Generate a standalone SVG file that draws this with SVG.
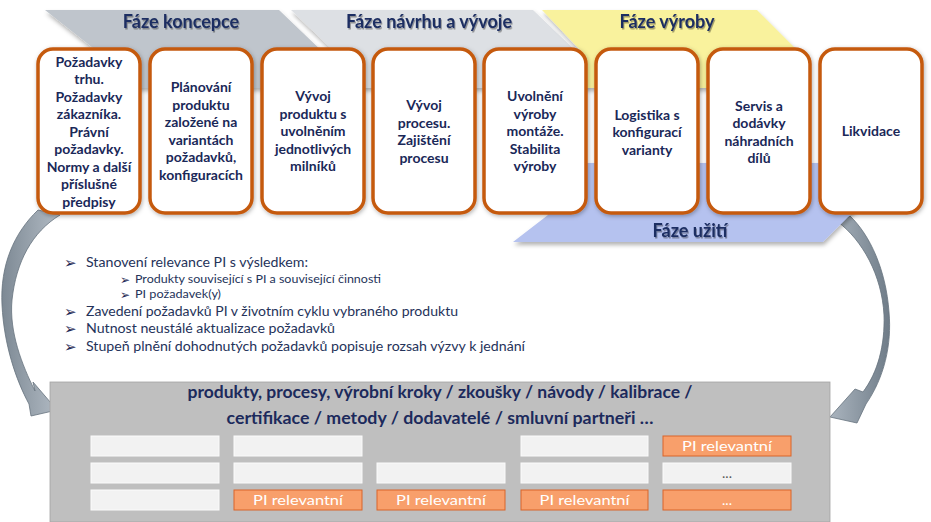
<svg xmlns="http://www.w3.org/2000/svg" width="931" height="522" viewBox="0 0 931 522">
<defs>
<filter id="bandShadow" x="-5%" y="-20%" width="110%" height="150%">
<feDropShadow dx="1" dy="3" stdDeviation="2" flood-color="#000" flood-opacity="0.3"/>
</filter>
<filter id="boxShadow" x="-10%" y="-10%" width="120%" height="120%">
<feDropShadow dx="1" dy="1.5" stdDeviation="2" flood-color="#000" flood-opacity="0.3"/>
</filter>
<filter id="txtShadow" x="-10%" y="-30%" width="120%" height="160%">
<feDropShadow dx="1" dy="1.5" stdDeviation="0.7" flood-color="#000" flood-opacity="0.35"/>
</filter>
<linearGradient id="arrowGrad" x1="0" y1="0" x2="1" y2="0">
<stop offset="0" stop-color="#7d8994"/>
<stop offset="1" stop-color="#b3bcc5"/>
</linearGradient>
<linearGradient id="arrowGradR" x1="0" y1="0" x2="1" y2="0">
<stop offset="0" stop-color="#aab4be"/>
<stop offset="1" stop-color="#6f7c88"/>
</linearGradient>
<style>
.box{fill:#fff;stroke:#c55a11;stroke-width:3.5}
.bt{font-family:Lato,"Liberation Sans",sans-serif;font-weight:bold;font-size:14px;fill:#1a2858;text-anchor:middle}
.ph{font-family:Lato,"Liberation Sans",sans-serif;font-weight:bold;font-size:18px;fill:#1f2f62;text-anchor:middle}
.bl{font-family:Lato,"Liberation Sans",sans-serif;font-size:13.5px;fill:#25335a}
.sbl{font-family:Lato,"Liberation Sans",sans-serif;font-size:11.5px;fill:#25335a}
.mark{font-family:"DejaVu Sans",sans-serif;fill:#1f2a55}
.ttl{font-family:Lato,"Liberation Sans",sans-serif;font-weight:bold;font-size:17px;fill:#1c2a5c;text-anchor:middle}
.cl{fill:#f2f2f2;stroke:#fbfbfb;stroke-width:1}
.co{fill:#f89f6b;stroke:#d9652a;stroke-width:1}
.ct{font-family:Lato,"Liberation Sans",sans-serif;font-size:14px;fill:#fff;text-anchor:middle}
.arr{stroke:#66727e;stroke-width:0.8}
</style>
</defs>
<rect width="931" height="522" fill="#fff"/>

<g id="connectors">
<path class="arr" fill="url(#arrowGrad)" d="M 38 210 C 14 233, 0 265, 2 305 C 4 345, 16 380, 29 404 L 31 416 L 57 410 L 33 382 L 35 391 C 22 365, 9 332, 12 300 C 16 262, 32 232, 60 215 Z"/>
<path class="arr" fill="url(#arrowGradR)" d="M 838 222 C 862 240, 882 275, 884 315 C 885 345, 878 372, 863 392 L 855 389 L 830 417 L 857 423 L 866 404 C 884 378, 892 345, 889 312 C 886 270, 870 235, 850 216 Z"/>
</g>

<g id="phase-koncepce">
<polygon points="45,10 279,10 326,55 326,88 102,88 102,55" fill="#bfc5cc" filter="url(#bandShadow)"/>
<text class="ph" x="181" y="28" filter="url(#txtShadow)">Fáze koncepce</text>
</g>
<g id="phase-navrh">
<polygon points="291,10 533,10 580,55 580,88 338,88 338,55" fill="#dde0e4" filter="url(#bandShadow)"/>
<text class="ph" x="429" y="28" filter="url(#txtShadow)">Fáze návrhu a vývoje</text>
</g>
<g id="phase-vyroba">
<polygon points="542,10 757,10 802,55 802,88 580,88 580,50" fill="#f9f29d" filter="url(#bandShadow)"/>
<text class="ph" x="667" y="28" filter="url(#txtShadow)">Fáze výroby</text>
</g>
<g id="phase-uziti">
<polygon points="513,242 823,242 855,210 855,163 548,163 548,215" fill="#b5c2ef" filter="url(#bandShadow)"/>
<text class="ph" x="690" y="237" filter="url(#txtShadow)">Fáze užití</text>
</g>

<g id="box1">
<rect class="box" x="38" y="49" width="102" height="164" rx="15" filter="url(#boxShadow)"/>
<text class="bt" x="89" y="66.5"><tspan x="89">Požadavky</tspan><tspan x="89" dy="17.5">trhu.</tspan><tspan x="89" dy="17.5">Požadavky</tspan><tspan x="89" dy="17.5">zákazníka.</tspan><tspan x="89" dy="17.5">Právní</tspan><tspan x="89" dy="17.5">požadavky.</tspan><tspan x="89" dy="17.5">Normy a další</tspan><tspan x="89" dy="17.5">příslušné</tspan><tspan x="89" dy="17.5">předpisy</tspan></text>
</g>
<g id="box2">
<rect class="box" x="150" y="49" width="102" height="164" rx="15" filter="url(#boxShadow)"/>
<text class="bt" x="201" y="92"><tspan x="201">Plánování</tspan><tspan x="201" dy="17.5">produktu</tspan><tspan x="201" dy="17.5">založené na</tspan><tspan x="201" dy="17.5">variantách</tspan><tspan x="201" dy="17.5">požadavků,</tspan><tspan x="201" dy="17.5">konfiguracích</tspan></text>
</g>
<g id="box3">
<rect class="box" x="262" y="49" width="102" height="164" rx="15" filter="url(#boxShadow)"/>
<text class="bt" x="313" y="101"><tspan x="313">Vývoj</tspan><tspan x="313" dy="17.5">produktu s</tspan><tspan x="313" dy="17.5">uvolněním</tspan><tspan x="313" dy="17.5">jednotlivých</tspan><tspan x="313" dy="17.5">milníků</tspan></text>
</g>
<g id="box4">
<rect class="box" x="373" y="49" width="102" height="164" rx="15" filter="url(#boxShadow)"/>
<text class="bt" x="424" y="110"><tspan x="424">Vývoj</tspan><tspan x="424" dy="17.5">procesu.</tspan><tspan x="424" dy="17.5">Zajištění</tspan><tspan x="424" dy="17.5">procesu</tspan></text>
</g>
<g id="box5">
<rect class="box" x="484" y="49" width="102" height="164" rx="15" filter="url(#boxShadow)"/>
<text class="bt" x="535" y="101"><tspan x="535">Uvolnění</tspan><tspan x="535" dy="17.5">výroby</tspan><tspan x="535" dy="17.5">montáže.</tspan><tspan x="535" dy="17.5">Stabilita</tspan><tspan x="535" dy="17.5">výroby</tspan></text>
</g>
<g id="box6">
<rect class="box" x="596" y="49" width="102" height="164" rx="15" filter="url(#boxShadow)"/>
<text class="bt" x="647" y="119.5"><tspan x="647">Logistika s</tspan><tspan x="647" dy="17.5">konfigurací</tspan><tspan x="647" dy="17.5">varianty</tspan></text>
</g>
<g id="box7">
<rect class="box" x="708" y="49" width="102" height="164" rx="15" filter="url(#boxShadow)"/>
<text class="bt" x="759" y="110.5"><tspan x="759">Servis a</tspan><tspan x="759" dy="17.5">dodávky</tspan><tspan x="759" dy="17.5">náhradních</tspan><tspan x="759" dy="17.5">dílů</tspan></text>
</g>
<g id="box8">
<rect class="box" x="820" y="49" width="102" height="164" rx="15" filter="url(#boxShadow)"/>
<text class="bt" x="871" y="136">Likvidace</text>
</g>

<g id="bullets">
<text class="mark" x="64" y="267.5" font-size="15">➢</text>
<text class="bl" x="86" y="266.5" textLength="222" lengthAdjust="spacingAndGlyphs">Stanovení relevance PI s výsledkem:</text>
<text class="mark" x="120" y="283.5" font-size="12">➢</text>
<text class="sbl" x="135" y="283" textLength="246" lengthAdjust="spacingAndGlyphs">Produkty související  s PI a související  činnosti</text>
<text class="mark" x="120" y="298.5" font-size="12">➢</text>
<text class="sbl" x="135" y="298" textLength="86" lengthAdjust="spacingAndGlyphs">PI požadavek(y)</text>
<text class="mark" x="64" y="316.5" font-size="15">➢</text>
<text class="bl" x="86" y="315.5" textLength="372" lengthAdjust="spacingAndGlyphs">Zavedení požadavků PI v životním cyklu vybraného produktu</text>
<text class="mark" x="64" y="333.5" font-size="15">➢</text>
<text class="bl" x="86" y="332.5" textLength="249" lengthAdjust="spacingAndGlyphs">Nutnost neustálé aktualizace požadavků</text>
<text class="mark" x="64" y="351.5" font-size="15">➢</text>
<text class="bl" x="86" y="350.5" textLength="439" lengthAdjust="spacingAndGlyphs">Stupeň plnění dohodnutých požadavků popisuje rozsah výzvy k jednání</text>
</g>

<g id="objects-panel">
<rect x="50" y="382" width="780" height="140" fill="#bfbfbf" stroke="#a3a3a3" stroke-width="0.8"/>
<text class="ttl" x="440" y="398" textLength="505" lengthAdjust="spacingAndGlyphs">produkty, procesy, výrobní kroky / zkoušky / návody / kalibrace /</text>
<text class="ttl" x="440" y="424" textLength="427" lengthAdjust="spacingAndGlyphs">certifikace / metody / dodavatelé / smluvní partneři …</text>
<rect class="cl" x="91" y="436" width="128" height="20"/>
<rect class="cl" x="234" y="436" width="128" height="20"/>
<rect class="cl" x="521" y="436" width="127" height="20"/>
<rect class="co" x="663" y="436" width="128" height="20"/>
<text class="ct" x="727" y="451" textLength="90" lengthAdjust="spacingAndGlyphs">PI relevantní</text>
<rect class="cl" x="91" y="463" width="128" height="20"/>
<rect class="cl" x="234" y="463" width="128" height="20"/>
<rect class="cl" x="377" y="463" width="128" height="20"/>
<rect class="cl" x="521" y="463" width="127" height="20"/>
<rect class="cl" x="663" y="463" width="128" height="20"/>
<text class="ct" x="727" y="478" style="fill:#595959">...</text>
<rect class="cl" x="91" y="490" width="128" height="20"/>
<rect class="co" x="234" y="490" width="128" height="20"/>
<text class="ct" x="298" y="505" textLength="90" lengthAdjust="spacingAndGlyphs">PI relevantní</text>
<rect class="co" x="377" y="490" width="128" height="20"/>
<text class="ct" x="441" y="505" textLength="90" lengthAdjust="spacingAndGlyphs">PI relevantní</text>
<rect class="co" x="521" y="490" width="127" height="20"/>
<text class="ct" x="584.5" y="505" textLength="90" lengthAdjust="spacingAndGlyphs">PI relevantní</text>
<rect class="co" x="663" y="490" width="128" height="20"/>
<text class="ct" x="727" y="505">...</text>
</g>
</svg>
